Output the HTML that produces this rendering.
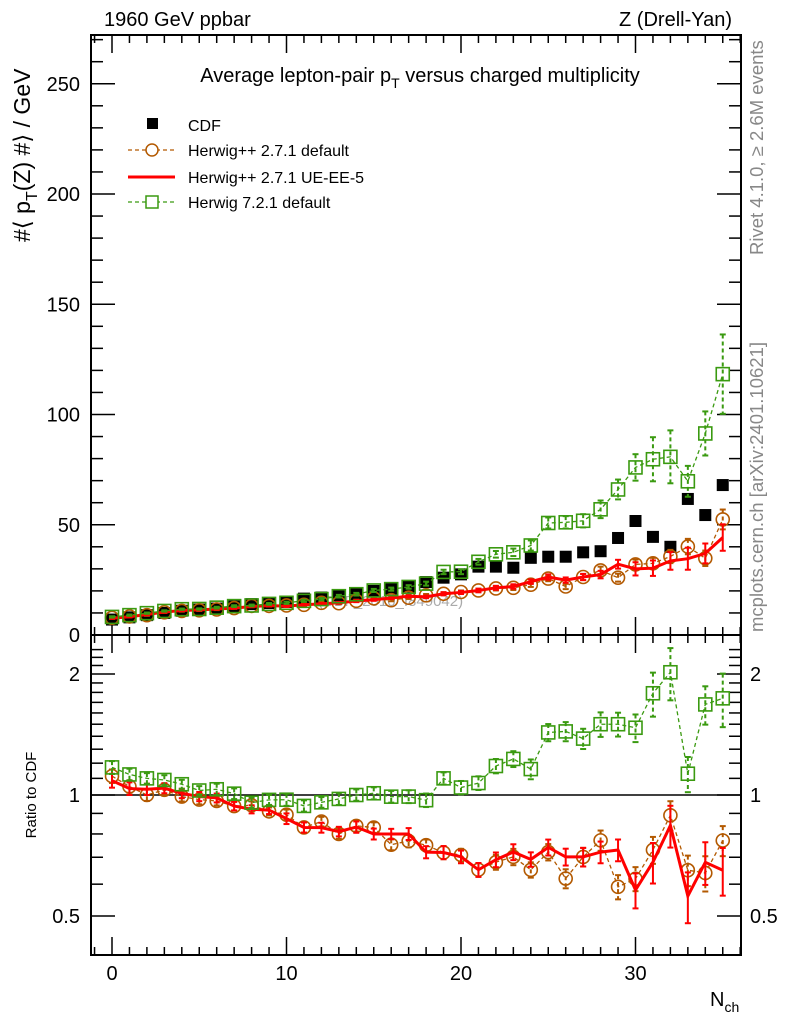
<!DOCTYPE html>
<html><head><meta charset="utf-8"><style>
html,body{margin:0;padding:0;background:#fff;}
svg{display:block;font-family:"Liberation Sans",sans-serif;}
</style></head><body>
<svg id="c" width="786" height="1024" viewBox="0 0 786 1024"></svg>
<script>
const nch=[0,1,2,3,4,5,6,7,8,9,10,11,12,13,14,15,16,17,18,19,20,21,22,23,24,25,26,27,28,29,30,31,32,33,34,35];
const cdfVals=[7,8,9,10,11,11.5,12,13,14,14.5,15,16.5,17,18,18.5,20,21,22,24,26,27.5,31,31,30.5,35,35.5,35.5,37.5,38,44,51.7,44.5,40,61.7,54.4,68];
const hppDefVals=[7.8,8.4,9.0,10.3,10.9,11.2,11.6,12.2,13.2,13.2,13.4,13.7,14.6,14.4,15.5,16.6,15.8,16.9,18,18.7,19.5,20.2,21.1,21.4,22.8,25.6,22,26.3,29.3,26,32,32.5,35.6,40.1,34.8,52.4];
const hppDefErr=[0.3,0.3,0.3,0.3,0.3,0.3,0.3,0.3,0.3,0.3,0.4,0.4,0.4,0.4,0.5,0.5,0.5,0.6,0.6,0.7,0.7,0.8,0.9,1,1,1.2,1.2,1.4,1.7,1.8,2.2,2.5,3,3.5,3.5,4.5];
const hppUEVals=[7.6,8.3,9.3,10.4,11.1,11.4,11.8,12.2,12.9,13.3,13.1,13.7,14.1,14.6,15.4,16,16.8,17.6,17.3,18.7,19.3,20.2,21.4,22,24.2,26.3,24.9,26.3,27.4,32.1,30,30.3,33.6,34.6,37,44.2];
const hppUEErr=[0.3,0.3,0.3,0.3,0.3,0.3,0.3,0.3,0.3,0.3,0.4,0.4,0.4,0.4,0.5,0.5,0.5,0.6,0.6,0.7,0.7,0.8,0.9,1,1,1.2,1.2,1.4,1.7,2,3,3.5,4,5,4.5,6];
const h7Vals=[8.2,9.0,9.9,10.9,11.7,11.8,12.4,13.1,13.4,14.1,14.6,15.5,16.3,17.6,18.5,20.2,20.8,21.8,23.3,28.6,28.7,33.2,36.6,37.5,40.6,50.8,51.1,51.8,57,66,76,79.7,80.8,69.7,91.4,118.3];
const h7Err=[0.3,0.3,0.3,0.3,0.3,0.3,0.4,0.4,0.4,0.4,0.5,0.5,0.5,0.6,0.6,0.7,0.7,0.8,0.9,1,1.1,1.3,1.5,1.7,2.3,2.5,2.8,3,4,4.5,6,10,12,7,10,18];
const yTicksMain=[0,50,100,150,200,250];
const yTicksRatio=[0.5,1,2];
const xTicks=[0,10,20,30];

const NS="http://www.w3.org/2000/svg";
const svg=document.getElementById('c');
const L=91,R=741,T=35,MB=635,RB=955;
const X=v=>112+v*17.45;
const YM=v=>635-v*2.205;
const YR=v=>795-121*Math.log2(v);
function el(tag,at,parent){const e=document.createElementNS(NS,tag);for(const k in at)e.setAttribute(k,at[k]);(parent||svg).appendChild(e);return e;}
function txt(s,at,parent){const e=el('text',at,parent);e.textContent=s;return e;}

let f=el('rect',{x:L,y:T,width:R-L,height:MB-T,fill:'none',stroke:'#000','stroke-width':2});


f=el('rect',{x:L,y:MB,width:R-L,height:RB-MB,fill:'none',stroke:'#000','stroke-width':2});



const gx=el('g',{stroke:'#000','stroke-width':1.5});


for(let v=-1;v<=36;v++){const x=X(v);if(x<L||x>R)continue;const len=v%10===0?18:8;
 [[MB,-len],[T,len],[RB,-len],[MB,len]].forEach(([y,d])=>el('line',{x1:x,x2:x,y1:y,y2:y+d},gx));}
xTicks.forEach(v=>{const t=txt(String(v),{x:X(v),y:980,'font-size':20,'text-anchor':'middle'});
 
 });
const gy=el('g',{stroke:'#000','stroke-width':1.5});


for(let v=0;v<=270;v+=10){const y=YM(v);const len=v%50===0?24:12;
 el('line',{x1:L,x2:L+len,y1:y,y2:y},gy);el('line',{x1:R,x2:R-len,y1:y,y2:y},gy);}
yTicksMain.forEach(v=>{const t=txt(String(v),{x:80,y:YM(v)+7,'font-size':20,'text-anchor':'end'});
 
 });
[0.5,0.6,0.7,0.8,0.9,1,1.1,1.2,1.3,1.4,1.5,1.6,1.7,1.8,1.9,2,2.1,2.2,2.3].forEach(v=>{
 const y=YR(v);if(y<MB||y>RB)return;const len=yTicksRatio.includes(v)?24:12;
 el('line',{x1:L,x2:L+len,y1:y,y2:y},gy);el('line',{x1:R,x2:R-len,y1:y,y2:y},gy);});
yTicksRatio.forEach(v=>{
 let t=txt(String(v),{x:80,y:YR(v)+7,'font-size':20,'text-anchor':'end'});
 
 
 t=txt(String(v),{x:750,y:YR(v)+7,'font-size':20});
 
 });
let ln=el('line',{x1:L,x2:R,y1:YR(1),y2:YR(1),stroke:'#000','stroke-width':1.5});



let wm=txt('(CDF_2010_I849042)',{x:318,y:606,'font-size':15,fill:'#aaa'});



function series(name,vals,errs,color,dash,marker,width,ratio){
 const g=el('g',{});
 
 
 const Yf=ratio?YR:YM;
 const v=ratio?vals.map((a,i)=>a/cdfVals[i]):vals;
 const e=ratio?errs.map((a,i)=>a/cdfVals[i]):errs;
 const pts=nch.map((n,i)=>X(n)+','+Yf(v[i])).join(' ');
 el('polyline',{points:pts,fill:'none',stroke:color,'stroke-width':width,'stroke-dasharray':dash||'none'},g);
 nch.forEach((n,i)=>{const x=X(n);
  const y1=Yf(v[i]+e[i]),y2=Yf(Math.max(v[i]-e[i],0.3));
  el('line',{x1:x,x2:x,y1:y1,y2:y2,stroke:color,'stroke-width':2,'stroke-dasharray':dash||'none'},g);
  el('line',{x1:x-3,x2:x+3,y1:y1,y2:y1,stroke:color,'stroke-width':2},g);
  el('line',{x1:x-3,x2:x+3,y1:y2,y2:y2,stroke:color,'stroke-width':2},g);
  const y=Yf(v[i]);
  if(marker==='circle')el('circle',{cx:x,cy:y,r:6.5,fill:'none',stroke:color,'stroke-width':1.6},g);
  if(marker==='square')el('rect',{x:x-6.5,y:y-6.5,width:13,height:13,fill:'none',stroke:color,'stroke-width':1.6},g);
 });
}
const gc=el('g',{});


nch.forEach((n,i)=>el('rect',{x:X(n)-6,y:YM(cdfVals[i])-6,width:12,height:12,fill:'#000'},gc));
series('herwigpp-default-series',hppDefVals,hppDefErr,'#b35900','4,3','circle',1.3,false);
series('herwigpp-ue-ee5-series',hppUEVals,hppUEErr,'#ff0000',null,null,3,false);
series('herwig7-default-series',h7Vals,h7Err,'#3a9a10','4,3','square',1.3,false);
series('herwigpp-default-ratio',hppDefVals,hppDefErr,'#b35900','4,3','circle',1.3,true);
series('herwigpp-ue-ee5-ratio',hppUEVals,hppUEErr,'#ff0000',null,null,3,true);
series('herwig7-default-ratio',h7Vals,h7Err,'#3a9a10','4,3','square',1.3,true);

function T2(s,at,name){const t=txt(s,at);return t;}
T2('1960 GeV ppbar',{x:104,y:26,'font-size':20},'energy-label');
T2('Z (Drell-Yan)',{x:732,y:26,'font-size':20,'text-anchor':'end'},'process-label');
const tt=T2('',{x:420,y:82,'font-size':20,'text-anchor':'middle'},'plot-title');
tt.innerHTML='Average lepton-pair p<tspan font-size="14" dy="6">T</tspan><tspan dy="-6"> versus charged multiplicity</tspan>';
const lg=el('g',{});


el('rect',{x:147,y:118,width:11,height:11,fill:'#000'},lg);
txt('CDF',{x:188,y:131,'font-size':16},lg);
el('line',{x1:128,x2:175,y1:150,y2:150,stroke:'#b35900','stroke-width':1.3,'stroke-dasharray':'4,3'},lg);
el('circle',{cx:152,cy:150,r:6,fill:'#fff',stroke:'#b35900','stroke-width':1.5},lg);
txt('Herwig++ 2.7.1 default',{x:188,y:156,'font-size':16},lg);
el('line',{x1:128,x2:175,y1:177,y2:177,stroke:'#ff0000','stroke-width':3},lg);
txt('Herwig++ 2.7.1 UE-EE-5',{x:188,y:183,'font-size':16},lg);
el('line',{x1:128,x2:175,y1:202,y2:202,stroke:'#3a9a10','stroke-width':1.3,'stroke-dasharray':'4,3'},lg);
el('rect',{x:146,y:196,width:12,height:12,fill:'#fff',stroke:'#3a9a10','stroke-width':1.5},lg);
txt('Herwig 7.2.1 default',{x:188,y:208,'font-size':16},lg);
const yt=T2('',{transform:'translate(30,242) rotate(-90)','font-size':23},'y-axis-title');
yt.innerHTML='#⟨ p<tspan font-size="16" dy="7">T</tspan><tspan dy="-7">(Z) #⟩ / GeV</tspan>';
T2('Ratio to CDF',{transform:'translate(36,795) rotate(-90)','font-size':15,'text-anchor':'middle'},'ratio-axis-title');
const xt=T2('',{x:710,y:1006,'font-size':20},'x-axis-title');
xt.innerHTML='N<tspan font-size="14" dy="6">ch</tspan>';
T2('Rivet 4.1.0, ≥ 2.6M events',{transform:'translate(763,255) rotate(-90)','font-size':18.5,fill:'#888'},'rivet-version-label');
T2('mcplots.cern.ch [arXiv:2401.10621]',{transform:'translate(763,632) rotate(-90)','font-size':18.5,fill:'#888'},'mcplots-label');
</script>
</body></html>
